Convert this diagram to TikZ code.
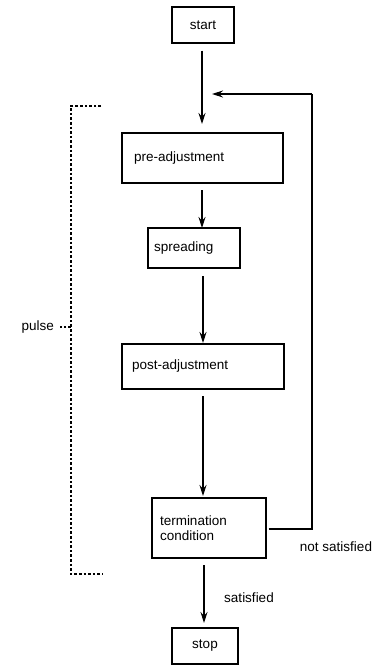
\documentclass[tikz,border=0pt]{standalone}
\usepackage{fontspec}
\setmainfont{Liberation Sans}
\usetikzlibrary{arrows.meta}
\begin{document}
\begin{tikzpicture}[x=1pt,y=-1pt,
  box/.style={draw,line width=1.3pt,inner sep=0pt,font=\fontsize{13.5}{15}\selectfont,align=left},
  lbl/.style={font=\fontsize{13.5}{15}\selectfont,inner sep=0pt},
  flow/.style={line width=1.2pt,-{Stealth[length=11pt,width=7pt]}},
  plain/.style={line width=1.2pt},
  dots/.style={line width=2.6pt,dash pattern=on 2.6pt off 2pt}]
\useasboundingbox (0,0) rectangle (384,666);
\node[box,minimum width=62pt,minimum height=36pt] (start) at (203,25) {start};
\node[box,minimum width=161pt,minimum height=50pt,text width=137pt] (pre) at (202.5,158) {pre-adjustment};
\node[box,minimum width=92pt,minimum height=40pt,text width=80pt] (spr) at (194,248) {spreading};
\node[box,minimum width=162pt,minimum height=45pt,text width=142pt] (post) at (203,366.5) {post-adjustment};
\node[box,minimum width=114pt,minimum height=60pt,text width=98pt] (term) at (209,528) {termination\\condition};
\node[box,minimum width=66pt,minimum height=36pt] (stop) at (205,646) {stop};
\coordinate (ent) at (202,94);
\coordinate (rt) at (312,94);
\coordinate (rb) at (312,529);
\draw[plain] ([yshift=-7pt]start.south -| ent) -- (ent);
\draw[flow] (ent) -- (202,124);
\draw[flow] (rt) -- (212,94);
\draw[plain] (term.east |- rb) ++(2,0) -- (rb) -- (rt);
\draw[flow] (202,190) -- (202,228);
\draw[flow] (203,276) -- (203,343);
\draw[flow] (203,396) -- (203,496);
\draw[flow] (204,565) -- (204,623);
\node[lbl] (sat) at (249,598) {satisfied};
\node[lbl] (nsat) at (336,547) {not satisfied};
\draw[dots] (101,106) -- (71,106) -- (71,574) -- (103,574);
\coordinate (ptick) at (71,327);
\draw[dots] (ptick) -- (60,327);
\node[lbl,anchor=east] (pulse) at (54,327) {pulse};
\end{tikzpicture}
\end{document}
